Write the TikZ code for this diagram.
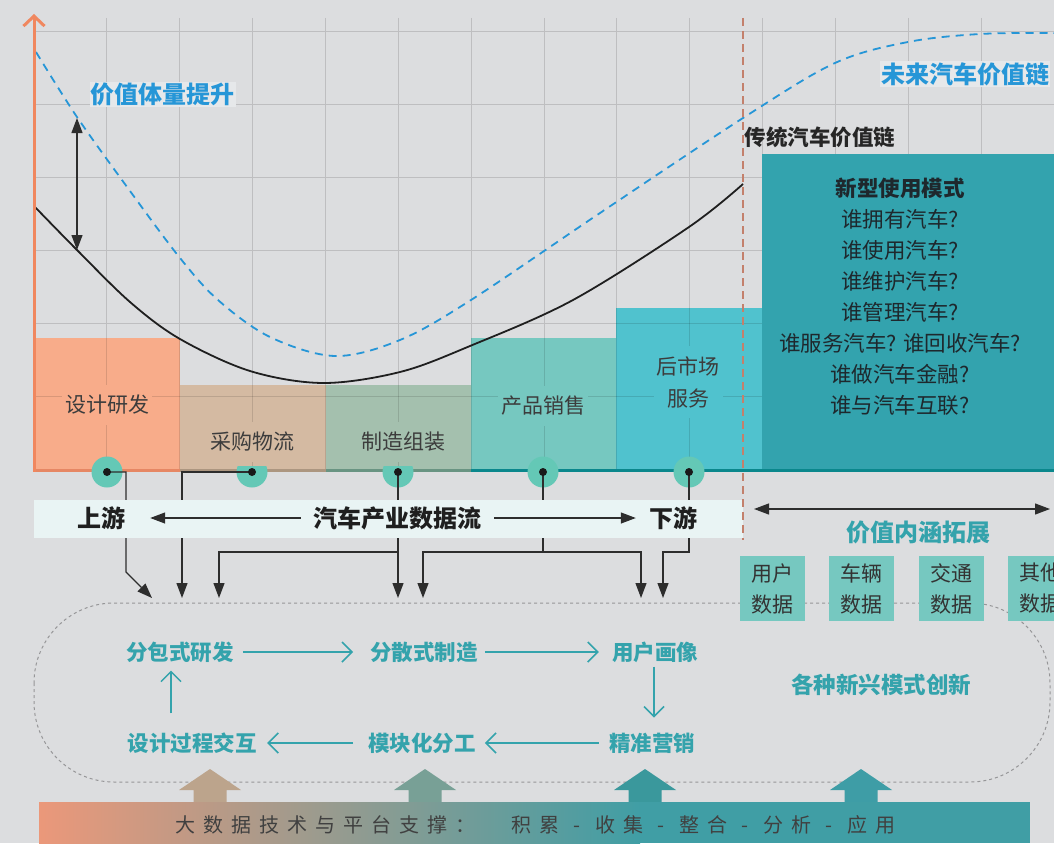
\documentclass[tikz,border=0pt]{standalone}
\usepackage{fontspec}
\setmainfont{Noto Sans CJK SC}
\usetikzlibrary{arrows.meta,calc}
\definecolor{bgc}{RGB}{220,221,223}
\definecolor{gridc}{RGB}{190,190,192}
\definecolor{axisor}{RGB}{240,135,95}
\definecolor{bar1}{RGB}{248,172,138}
\definecolor{bar2}{RGB}{212,186,162}
\definecolor{bar3}{RGB}{164,192,174}
\definecolor{bar4}{RGB}{118,200,192}
\definecolor{bar5}{RGB}{80,194,206}
\definecolor{bar6}{RGB}{51,163,174}
\definecolor{ax1}{RGB}{230,135,100}
\definecolor{ax2}{RGB}{172,150,128}
\definecolor{ax3}{RGB}{105,148,130}
\definecolor{ax4}{RGB}{10,135,140}
\definecolor{ringcol}{RGB}{100,200,182}
\definecolor{bluec}{RGB}{38,150,215}
\definecolor{tealtxt}{RGB}{52,163,172}
\definecolor{lblc}{RGB}{60,60,60}
\definecolor{connc}{RGB}{45,45,45}
\definecolor{bandc}{RGB}{233,244,244}
\definecolor{dashbr}{RGB}{195,128,108}
\definecolor{stadc}{RGB}{150,150,152}
\definecolor{lightbox}{RGB}{230,232,234}
\definecolor{boxtxt}{RGB}{30,40,45}
\definecolor{ua1}{RGB}{188,164,140}
\definecolor{ua2}{RGB}{120,160,150}
\definecolor{ua3}{RGB}{58,152,156}
\definecolor{ua4}{RGB}{62,157,166}
\definecolor{bl}{RGB}{235,152,122}
\definecolor{br}{RGB}{64,158,165}
\newcommand{\cb}[1]{\makebox[28pt][c]{#1}}
\begin{document}
\begin{tikzpicture}[x=1pt,y=-1pt,
  gridl/.style={draw=gridc,line width=1pt},
  barlbl/.style={font=\fontsize{21}{32}\selectfont,text=lblc,align=center,inner xsep=3pt,inner ysep=10pt},
  ringn/.style={circle,fill=ringcol,minimum size=31pt,inner sep=0pt},
  dotn/.style={circle,fill=black!90,minimum size=8pt,inner sep=0pt},
  conn/.style={draw=connc,line width=1.2pt},
  tipT/.style={-{Triangle[length=15pt,width=11pt]}},
  bandtxt/.style={font=\bfseries\fontsize{24}{28}\selectfont,text=black!88,inner sep=0pt},
  flowtxt/.style={font=\bfseries\fontsize{21.5}{25}\selectfont,text=tealtxt,inner sep=0pt},
  farrow/.style={draw=tealtxt,line width=1.5pt,-{Straight Barb[length=10pt,width=20pt]}},
  databox/.style={fill=bar4,minimum width=65pt,minimum height=65pt,inner sep=0pt,align=center,font=\fontsize{21}{31}\selectfont,text=black!80}
]
\useasboundingbox (0,0) rectangle (1054,843);
\clip (0,0) rectangle (1054,843);
\fill[bgc] (0,0) rectangle (1054,843);

% grid
\foreach \i in {1,...,14}{\draw[gridl] ({34+72.857*\i},18) -- ({34+72.857*\i},470);}
\foreach \j in {0,...,5}{\draw[gridl] (34,{32+72.83*\j}) -- (1054,{32+72.83*\j});}

% bars
\fill[bar1] (34,338) rectangle (180,470);
\fill[bar2] (180,385) rectangle (326,470);
\fill[bar3] (326,385) rectangle (471,470);
\fill[bar4] (471,338) rectangle (616,470);
\fill[bar5] (616,308) rectangle (762,470);
\begin{scope}
\clip (34,338) rectangle (180,470) (180,385) rectangle (471,470) (471,338) rectangle (616,470) (616,308) rectangle (762,470);
\foreach \i in {1,...,14}{\draw[line width=1pt,draw=black,opacity=.12] ({34+72.857*\i},18) -- ({34+72.857*\i},470);}
\foreach \j in {0,...,5}{\draw[line width=1pt,draw=black,opacity=.12] (34,{32+72.83*\j}) -- (1054,{32+72.83*\j});}
\end{scope}
\node[barlbl,fill=bar1] (l1) at (107,405) {设计研发};
\node[barlbl,fill=bar2] (l2) at (252,442) {采购物流};
\node[barlbl,fill=bar3] (l3) at (403,442) {制造组装};
\node[barlbl,fill=bar4] (l4) at (543,406) {产品销售};
\node[barlbl,fill=bar5] (l5) at (688,382) {后市场\\服务};

% big box
\fill[bar6] (762,154) rectangle (1054,470);
\node[align=center,text=boxtxt,font=\fontsize{21.5}{31}\selectfont] (bigt) at (900,296.5)
  {\textbf{新型使用模式}\\谁拥有汽车?\\谁使用汽车?\\谁维护汽车?\\谁管理汽车?\\谁服务汽车? 谁回收汽车?\\谁做汽车金融?\\谁与汽车互联?};

% curves
\draw[black!88,line width=1.8pt] plot[smooth,tension=0.55] coordinates
  {(34,206) (77,250) (130,302) (180,339) (250,371) (323,383) (400,372) (470,346) (573,300) (689,227) (743,184)};
\draw[bluec,line width=1.8pt,dash pattern=on 8pt off 6pt] plot[smooth,tension=0.55] coordinates
  {(36,52) (77,117) (130,191) (180,258) (218,300) (270,337) (335,356) (400,340) (471,300) (600,213) (743,118) (835,63) (908,42) (980,34) (1054,33)};

% value lift arrow
\coordinate (va) at (77,118);
\coordinate (vb) at (77,250);
\draw[draw=connc,line width=1.2pt,{Triangle[length=15pt,width=11pt]}-{Triangle[length=15pt,width=11pt]}] (va) -- (vb);
\node[font=\bfseries\fontsize{24}{28}\selectfont,text=bluec,fill=lightbox,inner xsep=1pt,inner ysep=1pt] (tv) at (162.5,94.5) {价值体量提升};
\node[font=\bfseries\fontsize{24}{28}\selectfont,text=bluec,fill=lightbox,inner xsep=1pt,inner ysep=1pt] (tf) at (965,74) {未来汽车价值链};
\node[font=\bfseries\fontsize{21.5}{25}\selectfont,text=black!85,inner sep=0pt] (tt) at (820,137) {传统汽车价值链};

% axes
\draw[line width=3pt,draw=ax1] (34,470) -- (180,470);
\draw[line width=3pt,draw=ax2] (180,470) -- (326,470);
\draw[line width=3pt,draw=ax3] (326,470) -- (471,470);
\draw[line width=3pt,draw=ax4] (471,470) -- (1054,470);
\coordinate (ax0) at (34,471.5);
\coordinate (axt) at (34,14);
\draw[axisor,line width=3pt,-{Straight Barb[length=10pt,width=21pt]}] (ax0) -- (axt);

% rings
\node[ringn] (r1) at (107,472) {};
\begin{scope}
\clip (0,466) rectangle (1054,843);
\node[ringn] (r2) at (252,472) {};
\node[ringn] (r3) at (398,472) {};
\end{scope}
\node[ringn] (r4) at (543,472) {};
\node[ringn] (r5) at (689,472) {};

% connectors
\coordinate (t1) at (152,598);
\coordinate (t2) at (182,598);
\coordinate (t3) at (398,598);
\coordinate (t4) at (219,598);
\coordinate (t5) at (423,598);
\coordinate (t6) at (641,598);
\coordinate (t7) at (663,598);
\coordinate (k1) at (126,572);
\coordinate (b3) at (398,552);
\coordinate (b4) at (543,552);
\coordinate (b5) at (689,552);
\draw[conn,tipT] (r1.center) -| (k1) -- (t1);
\draw[conn,tipT] (r2.center) -| (t2);
\draw[conn,tipT] (r3.center) -- (t3);
\draw[conn,tipT] (b3) -| (t4);
\draw[conn] (r4.center) -- (b4);
\draw[conn,tipT] (b4) -| (t5);
\draw[conn,tipT] (b4) -| (t6);
\draw[conn,tipT] (r5.center) -- (b5) -| (t7);
\foreach \k in {1,...,5}{\node[dotn] (p\k) at (r\k.center) {};}

% band
\fill[bandc] (34,500) rectangle (743,538);
\node[bandtxt] (up) at (101,518) {上游};
\node[bandtxt] (flowc) at (397,518) {汽车产业数据流};
\node[bandtxt] (down) at (673,518) {下游};
\draw[conn,tipT] ($(flowc.west)+(-12,0)$) -- ($(up.east)+(25,0)$);
\draw[conn,tipT] ($(flowc.east)+(13,0)$) -- ($(down.west)+(-13,0)$);

% divider
\coordinate (dl1) at (743,18);
\coordinate (dl2) at (743,540);
\draw[dashbr,line width=2pt,dash pattern=on 8pt off 5pt] (dl1) -- (dl2);

% value expansion
\coordinate (ea) at (754,509);
\coordinate (eb) at (1050,509);
\draw[conn,{Triangle[length=15pt,width=11pt]}-{Triangle[length=15pt,width=11pt]}] (ea) -- (eb);
\node[font=\bfseries\fontsize{24}{28}\selectfont,text=tealtxt] (ve) at (918,532) {价值内涵拓展};

% stadium
\draw[stadc,line width=1pt,dash pattern=on 3pt off 3pt,rounded corners=80pt] (34,603) rectangle (1050,782);

% data boxes
\node[databox] (d1) at (772.5,588.5) {用户\\数据};
\node[databox] (d2) at (861.5,588.5) {车辆\\数据};
\node[databox] (d3) at (951.5,588.5) {交通\\数据};
\node[databox] (d4) at (1040.5,588.5) {其他\\数据};

% flow
\node[flowtxt] (f1) at (180,652) {分包式研发};
\node[flowtxt] (f2) at (424,652) {分散式制造};
\node[flowtxt] (f3) at (655,652) {用户画像};
\node[flowtxt] (f4) at (652,743) {精准营销};
\node[flowtxt] (f5) at (422,743) {模块化分工};
\node[flowtxt] (f6) at (192,743) {设计过程交互};
\node[flowtxt,font=\bfseries\fontsize{22.5}{26}\selectfont] (f7) at (881,685) {各种新兴模式创新};
\draw[farrow] ($(f1.east)+(9,0)$) -- ($(f2.west)+(-17,0)$);
\draw[farrow] ($(f2.east)+(7,0)$) -- ($(f3.west)+(-13,0)$);
\draw[farrow] ($(f3.south)+(-1,4)$) -- ($(f3.south |- f4.north)+(-1,-15)$);
\draw[farrow] ($(f4.west)+(-10,0)$) -- ($(f5.east)+(9,0)$);
\draw[farrow] ($(f5.west)+(-15,0)$) -- ($(f6.east)+(10.5,0)$);
\draw[farrow] ($(f6.north -| f1.south)+(-9,-19)$) -- ($(f1.south)+(-9,8)$);

% up arrows
\foreach \cx/\col in {210/ua1,425/ua2,645/ua3,861/ua4}{
  \fill[\col] (\cx,769) -- ({\cx+31},790) -- ({\cx+16.5},790) -- ({\cx+16.5},803) -- ({\cx-16.5},803) -- ({\cx-16.5},790) -- ({\cx-31},790) -- cycle;
}

% bottom band
\shade[left color=bl,right color=br] (39,802) rectangle (640,843);
\fill[br] (639.5,802) rectangle (1030,843);
\node[font=\fontsize{20}{24}\selectfont,text=black!75,inner sep=0pt] (plat) at (535,825)
  {\cb{大}\cb{数}\cb{据}\cb{技}\cb{术}\cb{与}\cb{平}\cb{台}\cb{支}\cb{撑}\cb{：}\cb{}\cb{积}\cb{累}\cb{-}\cb{收}\cb{集}\cb{-}\cb{整}\cb{合}\cb{-}\cb{分}\cb{析}\cb{-}\cb{应}\cb{用}};
\end{tikzpicture}
\end{document}
